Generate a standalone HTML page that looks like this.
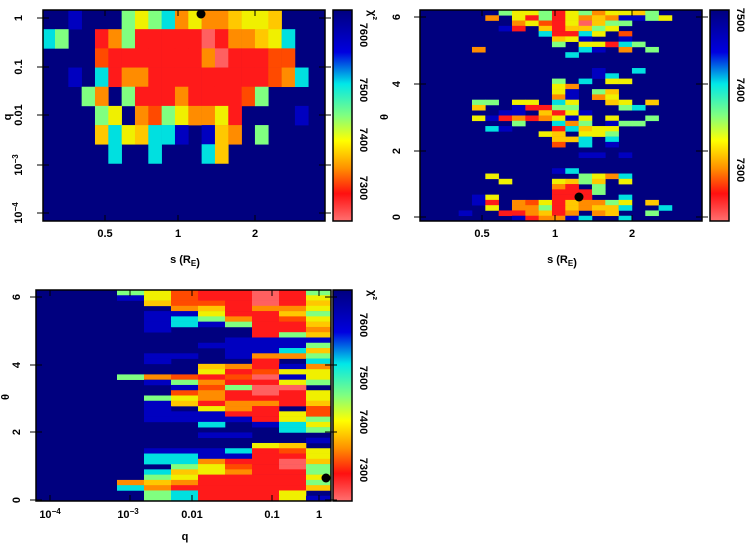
<!DOCTYPE html>
<html><head><meta charset="utf-8"><style>
body{margin:0;background:#fff}
svg text{font-family:"Liberation Sans",sans-serif;font-weight:bold;font-size:11px;fill:#000}
</style></head><body>
<svg id="s" width="754" height="546" xmlns="http://www.w3.org/2000/svg">
<defs>
<linearGradient id="cb" x1="0" y1="0" x2="0" y2="1">
<stop offset="0" stop-color="#00007f"/><stop offset="0.2" stop-color="#0000e0"/>
<stop offset="0.35" stop-color="#00e8e8"/><stop offset="0.5" stop-color="#80ff80"/>
<stop offset="0.62" stop-color="#ffff00"/><stop offset="0.75" stop-color="#ff9000"/>
<stop offset="0.87" stop-color="#ff1010"/><stop offset="1" stop-color="#ff7070"/>
</linearGradient>
</defs>
<g id="g"></g>
</svg>
<script>
var C={D:"#00007f",B:"#0000c0",C:"#00e0e0",G:"#80ff80",Y:"#f0f000",y:"#ffc800",O:"#ff8c00",o:"#ff4a00",R:"#ff1a1a",r:"#ff6060"};
var g=document.getElementById("g"),h="";
function rect(x,y,w,hh,f,extra){h+='<rect x="'+x+'" y="'+y+'" width="'+w+'" height="'+hh+'" fill="'+f+'" '+(extra||'')+'/>';}
function txt(x,y,t,rot,anc){h+='<text x="'+x+'" y="'+y+'" text-anchor="'+(anc||"middle")+'"'+(rot?' transform="rotate('+rot+' '+x+' '+y+')"':'')+'>'+t+'</text>';}
function grid(L,T,R,B,x0,cw,rows,rh,offset){
 rect(L,T,R-L,B-T,C.D);
 for(var i=0;i<rows.length;i++){var s=rows[i];
  for(var k=0;k<s.length;k++){var c=s[k];if(c=="D"||c==".")continue;
   var x=x0+cw*(k+offset),w=cw;var xa=Math.max(x,L),xb=Math.min(x+w,R);if(xb<=xa)continue;
   rect(xa.toFixed(2),(T+rh*i).toFixed(2),(xb-xa+0.3).toFixed(2),(rh+0.3).toFixed(2),C[c]);}}
}
var p1=["DDBDDDGYGCOYOOyYYyDDDD","CGDDROGRRRRRrROOyYCDDD","DDDDoRRRRRRROrRRRooDDD","DDBDCROORRRRRRRRRoOCDD","DDDGODGRRRORRRRoGDDDDD","DDDDGYDOoGYOOYRDDDDBDD","DDDDyCYyCCBDByODGDDDDD","DDDDDCDDCDDDCyDDDDDDDD","DDDDDDDDDDDDDDDDDDDDDD","DDDDDDDDDDDDDDDDDDDDDD","DDDDDDDDDDDDDDDDDDDDDD"];
grid(43,10,325,221,41.67,13.33,p1,19.18,0);
var p2=["DDDDDDGYYGRYGOYYyGDDDD","DDDDDODYRGRYOyOBBGYDDD","DDDDDDDOYoRYryGGDDDDDD","DDDDDDBRDyRyyGYDDDDDDD","DDDDDDDDDCRRCYDoDDDDDD","DDDDDDDDDDyYBDDBDDDDDD","DDDDDDDDDDGDYYRCGDDDDD","DDDDODDDDDDDCBDODGDDDD","DDDDDDDDDDDCDDDDDDDDDD","DDDDDDDDDDDDDDDDDDDDDD","DDDDDDDDDDDDDDDDDDDDDD","DDDDDDDDDDDDDBDDCDDDDD","DDDDDDDDDDDDDBCDDDDDDD","DDDDDDDDDDGDCDYYDDDDDD","DDDDDDDDDDYODDDDDDDDDD","DDDDDDDDDDYBDGyDDDDDDD","DDDDDDDDDDOBDOYDDDDDDD","DDDDGGDYYDCYDDyYDyDDDD","DDDDyDDBRRGGDDDGCDDDDD","DDDDDDBBDyRYBDDDDDDDDD","DDDDYBROROYBYDYDDGDDDD","DDDDDDDGDDCOGDBGGDDDDD","DDDDDCBDDDRCyYYDDDDDDD","DDDDDDDDDYyDYYGDDDDDDD","DDDDDDDDDDyyCDCDDDDDDD","DDDDDDDDDDoDCDBDDDDDDD","DDDDDDDDDDDDDDDDDDDDDD","DDDDDDDDDDDDBBDBDDDDDD","DDDDDDDDDDDDDDDDDDDDDD","DDDDDDDDDDDDDDDDDDDDDD","DDDDDDDDDDBCDDDDDDDDDD","DDDDDYDDDDDDGYOCDDDDDD","DDDDDDYDDDYyGyDYDDDDDD","DDDDDDDDDDORDGDDDDDDDD","DDDDDDDDDDRRRGDDDDDDDD","DDDDBYDDDDRRRDDCDDDDDD","DDDDBRDOoYRyOOGYDyDDDD","DDDDDYDOOGRyOyyCDDCDDD","DDDBDDRROyRODOyDDGDDDD","DDDDDDDBROOBCDDCDDDDDD"];
grid(420,10,702,221,418.67,13.33,p2,5.275,0);
var p3=["DDDGYoRRrRG","DDDBYoRRrRY","DDDDyooRrRy","DDDDDOyROOY","DDDDBBYRRyG","DDDDBCGORoY","DDDDBCBGRRy","DDDDBDDDRRO","DDDDDDDDRGy","DDDDDDDBBBB","DDDDDDBBBBG","DDDDDDDBBCy","DDDDBBDBOOG","DDDDBDDDRDC","DDDDDDyORBO","DDDDDDYRoYY","DDDGOoRorBY","DDDDBGORRYG","DDDDDBoGrrD","DDDDDoORrRY","DDDDGYORRRY","DDDDByROORy","DDDDBDYORDo","DDDDBBBRRYo","DDDDBBBBRYG","DDDDDDCDBCY","DDDDDDDDDCG","DDDDDDBBDDD","DDDDDDDDDDB","DDDDDDDDYyD","DDDDBBBCRoY","DDDDCCBBRRY","DDDDCCORRry","DDDDDGYoRrG","DDDDCyYORRG","DDDDGYRRRRY","DDDOyORRRRG","DDDCORRRRRy","DDDDGCRRRYD","DDDDGCRRRYB"];
grid(36,290,331,501,36,27,p3,5.275,0);
function frame(x,y,w,hh){rect(x,y,w,hh,"none",'stroke="#000" stroke-width="1.5"');}
frame(43,10,282,211);frame(420,10,282,211);frame(36,290,295,211);
[[333,10,19,211],[710,10,19,211],[333,290,19,211]].forEach(function(a){rect(a[0],a[1],a[2],a[3],"url(#cb)");frame(a[0],a[1],a[2],a[3]);});
h+='<circle cx="201" cy="14" r="4.5" fill="#000"/><circle cx="579" cy="197" r="4.5" fill="#000"/><circle cx="326" cy="478" r="4.5" fill="#000"/>';
function tk(x1,y1,x2,y2){h+='<line x1="'+x1+'" y1="'+y1+'" x2="'+x2+'" y2="'+y2+'" stroke="#000" stroke-width="1"/>';}
[18,67,115,165,213].forEach(function(y){tk(37,y,49,y);tk(319,y,331,y);});
[151,217,84,17].forEach(function(y){tk(414,y,426,y);tk(696,y,708,y);});
[297,365,432,500].forEach(function(y){tk(30,y,42,y);tk(325,y,337,y);});
[105,178,255].forEach(function(x){tk(x,10,x,16);tk(x,215,x,221);});
[482,555,632].forEach(function(x){tk(x,10,x,16);tk(x,215,x,221);});
[50,130,192,272,319].forEach(function(x){tk(x,290,x,296);tk(x,495,x,501);});
var m3='10<tspan font-size="8" dy="-4">−3</tspan>', m4='10<tspan font-size="8" dy="-4">−4</tspan>', sRE='s (R<tspan font-size="8" dy="3">E</tspan>)';
txt(22,18,"1",-90);txt(22,67,"0.1",-90);txt(22,115,"0.01",-90);txt(22,165,m3,-90);txt(22,213,m4,-90);
txt(105,237,"0.5");txt(178,237,"1");txt(255,237,"2");
txt(185,263,sRE);txt(11,117,"q",-90);
txt(360,35,"7600",90);txt(360,90,"7500",90);txt(360,140,"7400",90);txt(360,188,"7300",90);txt(369,15,"χ²",90);
txt(400,17,"6",-90);txt(400,84,"4",-90);txt(400,151,"2",-90);txt(400,217,"0",-90);
txt(482,237,"0.5");txt(555,237,"1");txt(632,237,"2");
txt(562,263,sRE);txt(388,117,"θ",-90);
txt(737,20,"7500",90);txt(737,90,"7400",90);txt(737,170,"7300",90);
txt(20,297,"6",-90);txt(20,365,"4",-90);txt(20,432,"2",-90);txt(20,500,"0",-90);
txt(50,518,m4);txt(128,518,m3);txt(192,518,"0.01");txt(272,518,"0.1");txt(319,518,"1");
txt(185,540,"q");txt(9,397,"θ",-90);
txt(360,325,"7600",90);txt(360,378,"7500",90);txt(360,422,"7400",90);txt(360,470,"7300",90);txt(369,295,"χ²",90);
g.innerHTML=h;
</script>
</body></html>
